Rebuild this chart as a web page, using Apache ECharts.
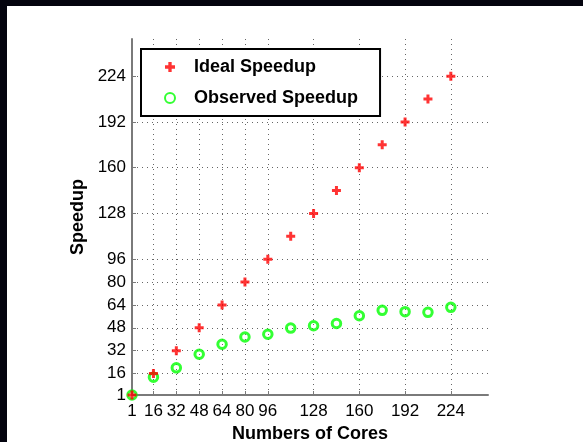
<!DOCTYPE html>
<html>
<head>
<meta charset="utf-8">
<script src="https://cdn.jsdelivr.net/npm/echarts@6/dist/echarts.min.js"></script>
<style>
  html, body { margin: 0; padding: 0; background: #ffffff; }
  #chart { width: 583px; height: 442px; }
</style>
</head>
<body>
<div id="chart"></div>
<script>
// Number of cores used in each run
const cores = [1, 16, 32, 48, 64, 80, 96, 112, 128, 144, 160, 176, 192, 208, 224];
// Ideal (linear) speedup for each core count
const idealSpeedup = [1, 16, 32, 48, 64, 80, 96, 112, 128, 144, 160, 176, 192, 208, 224];
// Measured speedup for each core count
const observedSpeedup = [1, 13.5, 20, 29.5, 36.5, 41.6, 43.5, 47.8, 49.4, 51, 56.4, 60.2, 59.3, 58.8, 62.3];
// Tick positions shown on both axes
const xTicks = [1, 16, 32, 48, 64, 80, 96, 128, 160, 192, 224];
const yTicks = [1, 16, 32, 48, 64, 80, 96, 128, 160, 192, 224];

const FONT = '"Liberation Sans", Arial, Helvetica, sans-serif';
const PLUS = 'path://M3,0H6V3H9V6H6V9H3V6H0V3H3Z';

const toPairs = (xs, ys) => xs.map((x, i) => [x, ys[i]]);

const gridLine = {
  show: true,
  lineStyle: { color: '#666666', width: 1, type: [1, 4] }
};

function axisCommon(ticks) {
  return {
    type: 'value',
    min: 1,
    max: 250,
    axisLine: { show: true, onZero: false, lineStyle: { color: '#7a7a7a', width: 2 } },
    axisTick: { show: true, inside: true, length: 4, customValues: ticks,
                lineStyle: { color: '#7a7a7a', width: 1 } },
    axisLabel: { customValues: ticks, color: '#000000', fontFamily: FONT, fontSize: 17 },
    splitLine: gridLine,
    nameLocation: 'middle',
    nameTextStyle: { color: '#000000', fontFamily: FONT, fontSize: 18, fontWeight: 'bold' }
  };
}

const chart = echarts.init(document.getElementById('chart'), null, { renderer: 'canvas' });

const xAxis = axisCommon(xTicks);
xAxis.name = 'Numbers of Cores';
xAxis.nameGap = 27;
xAxis.axisLabel.margin = 8;

const yAxis = axisCommon(yTicks);
yAxis.name = 'Speedup';
yAxis.nameGap = 43;
yAxis.axisLabel.margin = 6;

chart.setOption({
  animation: false,
  backgroundColor: '#ffffff',
  grid: { left: 132, right: 95, top: 39, bottom: 47, containLabel: false, outerBoundsMode: 'none' },
  xAxis: xAxis,
  yAxis: yAxis,
  legend: {
    orient: 'vertical',
    left: 141,
    top: 49,
    padding: [8, 22, 8, 23],
    itemGap: 11,
    itemWidth: 10,
    itemHeight: 10,
    backgroundColor: '#ffffff',
    borderColor: '#000000',
    borderWidth: 2,
    borderRadius: 0,
    textStyle: { color: '#000000', fontFamily: FONT, fontSize: 18, fontWeight: 'bold',
                 lineHeight: 20, padding: [0, 0, 0, 14] },
    data: [
      { name: 'Ideal Speedup', icon: PLUS },
      { name: 'Observed Speedup', icon: 'circle' }
    ]
  },
  graphic: [
    { type: 'rect', left: 0, top: 0, shape: { width: 583, height: 6 }, style: { fill: '#04040e' }, z: 100 },
    { type: 'rect', left: 0, top: 0, shape: { width: 7, height: 442 }, style: { fill: '#04040e' }, z: 100 }
  ],
  series: [
    {
      name: 'Observed Speedup',
      type: 'scatter',
      data: toPairs(cores, observedSpeedup),
      symbol: 'circle',
      symbolSize: 8.5,
      itemStyle: { color: 'rgba(255,255,255,0)', borderColor: '#00ff00', borderWidth: 3 },
      z: 2
    },
    {
      name: 'Ideal Speedup',
      type: 'scatter',
      data: toPairs(cores, idealSpeedup),
      symbol: PLUS,
      symbolSize: 9,
      itemStyle: { color: '#ff0000' },
      z: 3
    }
  ]
});
</script>
</body>
</html>
